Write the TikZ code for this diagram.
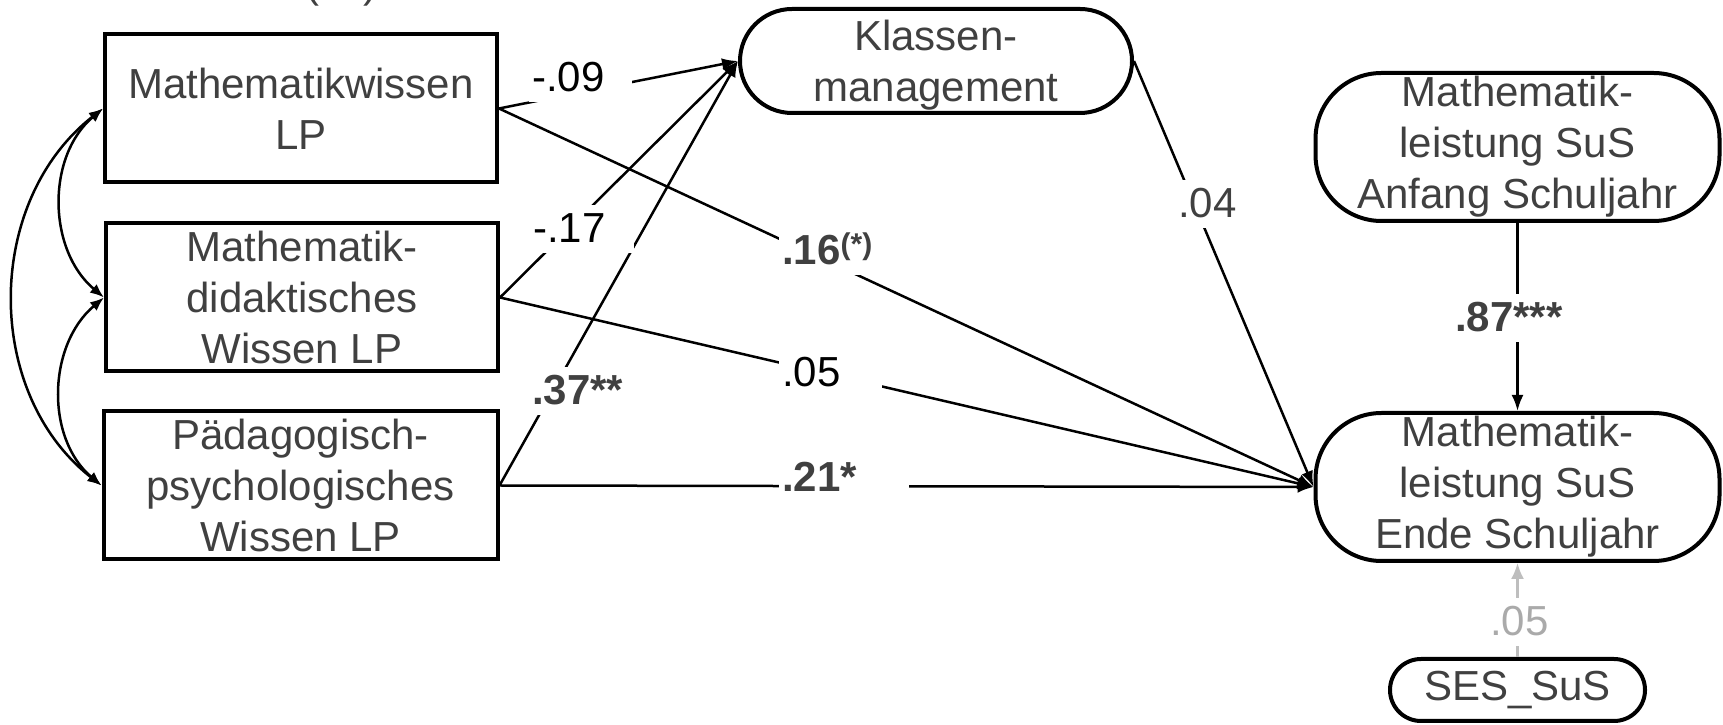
\documentclass[tikz,border=0pt]{standalone}
\usepackage{fontspec}
\setmainfont{Liberation Sans}
\usetikzlibrary{arrows.meta}
\definecolor{txtgray}{RGB}{64,64,64}
\definecolor{sesline}{RGB}{190,190,190}
\definecolor{seslab}{RGB}{170,170,170}
\begin{document}
\begin{tikzpicture}[x=1pt,y=1pt,
  every node/.style={font=\fontsize{42}{51}\selectfont},
  box/.style={draw, line width=4pt, inner sep=0pt, align=center, text=txtgray,
    minimum width=392pt, minimum height=148pt},
  pill/.style={draw, line width=4pt, inner sep=0pt, align=center, text=txtgray},
  conn/.style={line width=2.5pt, -{Latex[length=16pt,width=12pt]}},
  cov/.style={line width=2.5pt, {Latex[length=14pt,width=11pt]}-{Latex[length=14pt,width=11pt]}},
  lab/.style={fill=white, inner xsep=3pt, inner ysep=1pt, text height=37pt, text depth=9pt, anchor=base west},
]
\useasboundingbox (0,0) rectangle (1723,725);

% nodes
\node[box] (b1) at (301,616.5) {Mathematikwissen\\LP};
\node[box] (b2) at (302,427.5) {Mathematik-\\didaktisches\\Wissen LP};
\node[box, minimum width=394pt] (b3) at (300.5,239.5) {Pädagogisch-\\psychologisches\\Wissen LP};
\node[pill, minimum width=392pt, minimum height=104pt, rounded corners=52pt] (km) at (936,664) {\rule{0pt}{38pt}Klassen-\\management};
\node[pill, minimum width=404pt, minimum height=148pt, rounded corners=66pt] (an) at (1517.5,578) {Mathematik-\\leistung SuS\\Anfang Schuljahr};
\node[pill, minimum width=404pt, minimum height=148pt, rounded corners=66pt] (en) at (1517.5,238) {Mathematik-\\leistung SuS\\Ende Schuljahr};
\node[pill, minimum width=255pt, minimum height=62pt, rounded corners=31pt] (ses) at (1517.5,35) {SES\_SuS};

% paths
\draw[conn] (b1.east) -- (km.west);
\draw[conn] (b2.east) -- (km.west);
\draw[conn] (b3.east) -- (km.west);
\draw[conn] (b1.east) -- (en.west);
\draw[conn] (b2.east) -- (en.west);
\draw[conn] (b3.east) -- (en.west);
\draw[conn] (km.east) -- (en.west);
\draw[conn] (an.south) -- (en.north);
\draw[line width=2.2pt, draw=sesline, -{Latex[length=16pt,width=13pt]}] (ses.north) -- (en.south);

% covariances
\draw[cov] (b1.west) to[out=220,in=140] (b2.west);
\draw[cov] (b2.west) to[out=220,in=140] (b3.west);
\draw[cov] (b1.west) to[out=218,in=142,looseness=1.02] (b3.west);

% labels
\node[lab] (l1) at (529,633) {\makebox[97pt][l]{-.09}};
\node[lab] (l2) at (530,482) {\makebox[98pt][l]{-.17}};
\node[lab, text=txtgray] (l3) at (529,320) {\makebox[97pt][l]{\bfseries .37**}};
\node[lab, text=txtgray] (l4) at (779,460) {\makebox[97pt][l]{\bfseries .16\raisebox{10pt}{\fontsize{30}{34}\selectfont (*)}}};
\node[lab] (l5) at (779,338) {\makebox[97pt][l]{.05}};
\node[lab, text=txtgray] (l6) at (779,233) {\makebox[124pt][l]{\bfseries .21*}};
\node[lab, text=txtgray] (l7) at (1175,507) {.04};
\node[lab, text=txtgray] (l8) at (1452,393) {\bfseries .87***};
\node[lab, text=seslab] (l9) at (1487,89) {.05};

% cut-off fragment at top
\node[text=txtgray, anchor=base, inner sep=0pt] (frag) at (341.5,727) {(\hspace{45pt})};
\end{tikzpicture}
\end{document}
